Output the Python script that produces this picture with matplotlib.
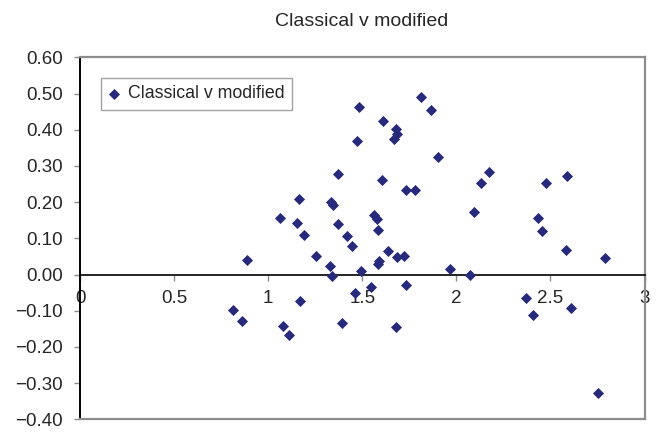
import matplotlib
matplotlib.use("Agg")
import matplotlib.pyplot as plt

TITLE = "Classical v modified"
SERIES_NAME = "Classical v modified"

classical = [0.815, 0.862, 0.889, 1.062, 1.077, 1.110, 1.151, 1.163, 1.167, 1.188,
             1.253, 1.331, 1.338, 1.336, 1.346, 1.369, 1.372, 1.391, 1.418, 1.448,
             1.461, 1.471, 1.485, 1.496, 1.549, 1.561, 1.577, 1.583, 1.582, 1.590,
             1.606, 1.609, 1.638, 1.670, 1.677, 1.686, 1.678, 1.687, 1.723, 1.733,
             1.733, 1.781, 1.811, 1.864, 1.904, 1.965, 2.071, 2.094, 2.131, 2.176,
             2.372, 2.408, 2.432, 2.456, 2.478, 2.581, 2.587, 2.609, 2.755, 2.792]
modified = [-0.098, -0.128, 0.039, 0.156, -0.142, -0.168, 0.142, 0.209, -0.072, 0.110,
            0.050, 0.023, -0.005, 0.200, 0.192, 0.140, 0.277, -0.135, 0.107, 0.078,
            -0.050, 0.370, 0.463, 0.009, -0.034, 0.163, 0.154, 0.122, 0.030, 0.036,
            0.262, 0.423, 0.066, 0.373, 0.403, 0.389, -0.146, 0.048, 0.050, -0.030,
            0.234, 0.234, 0.491, 0.454, 0.325, 0.015, -0.001, 0.172, 0.253, 0.283,
            -0.065, -0.112, 0.157, 0.120, 0.252, 0.069, 0.272, -0.092, -0.326, 0.045]

x_ticks = [0, 0.5, 1, 1.5, 2, 2.5, 3]
x_labels = ["0", "0.5", "1", "1.5", "2", "2.5", "3"]
y_ticks = [-0.4, -0.3, -0.2, -0.1, 0.0, 0.1, 0.2, 0.3, 0.4, 0.5, 0.6]

plt.rcParams['font.family'] = ['Liberation Sans', 'DejaVu Sans']
TEXT = '#262626'
GREY = '#8c8c8c'
NAVY = '#27297A'

fig = plt.figure(figsize=(6.57, 4.32), dpi=100)
ax = fig.add_axes([80 / 657, 1 - 419.3 / 432, 564.5 / 657, 362 / 432])

ax.scatter(classical, modified, marker='D', s=32, color=NAVY, linewidths=0,
           label=SERIES_NAME, zorder=3)

ax.set_xlim(0, 3)
ax.set_ylim(-0.4, 0.6)
ax.set_xticks(x_ticks)
ax.set_xticklabels(x_labels)
ax.set_yticks(y_ticks)
ax.set_yticklabels([f"{v:.2f}".replace('-', '\u2212') for v in y_ticks])

# x axis crosses at zero like excel
ax.spines['bottom'].set_position(('data', 0))
ax.spines['bottom'].set_color('black')
ax.spines['bottom'].set_linewidth(1.2)
ax.spines['left'].set_color('black')
ax.spines['left'].set_linewidth(1.4)
for side in ['top', 'right']:
    ax.spines[side].set_color(GREY)
    ax.spines[side].set_linewidth(1.6)
ax.plot([0, 1], [0, 0], transform=ax.transAxes, color=GREY, lw=1.6,
        clip_on=False, zorder=5)

ax.tick_params(axis='x', direction='out', length=4, width=1, color=GREY,
               labelsize=13.5, labelcolor=TEXT, pad=7)
ax.tick_params(axis='y', direction='out', length=4.5, width=1, color=GREY,
               labelsize=13.5, labelcolor=TEXT, pad=8)

fig.text(361.7 / 657, 1 - 26 / 432, TITLE, ha='center', va='baseline',
         fontsize=14, color=TEXT)

leg = ax.legend(loc='upper left', bbox_to_anchor=(0.0367, 0.943),
                borderaxespad=0, fancybox=False, frameon=True,
                handlelength=0.6, handletextpad=0.5, borderpad=0.42,
                fontsize=12.8, scatterpoints=1)
leg.get_frame().set_edgecolor(GREY)
leg.get_frame().set_linewidth(1.0)
for t in leg.get_texts():
    t.set_color(TEXT)

fig.savefig('out.png', dpi=100)
